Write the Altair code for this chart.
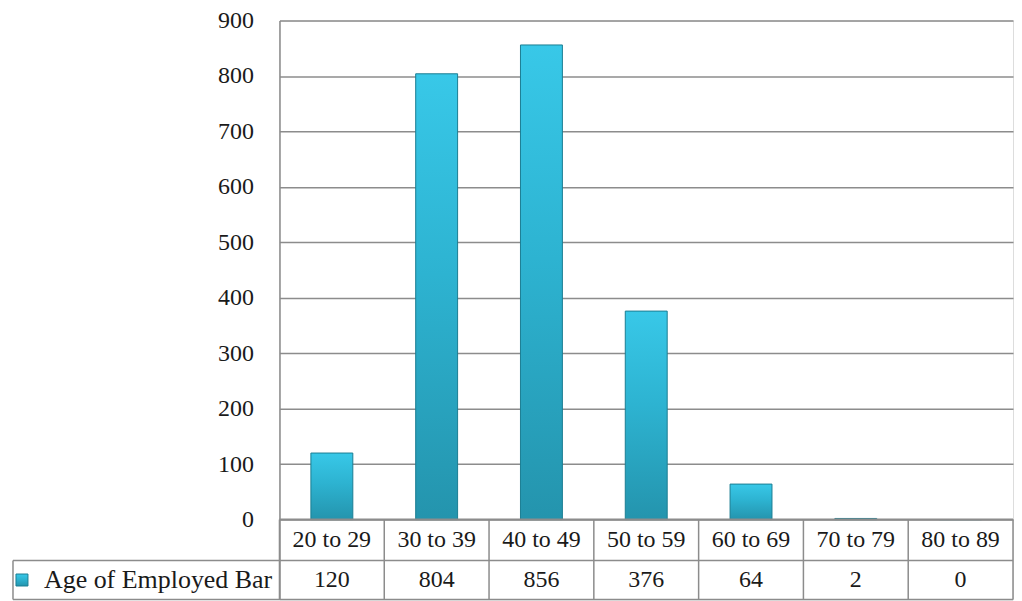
import altair as alt
import pandas as pd

# ---- data ----
categories = ["20 to 29", "30 to 39", "40 to 49", "50 to 59", "60 to 69", "70 to 79", "80 to 89"]
values = [120, 804, 856, 376, 64, 2, 0]
series_name = "Age of Employed Bar"
y_ticks = [0, 100, 200, 300, 400, 500, 600, 700, 800, 900]

# ---- layout / style constants ----
FONT = "Liberation Serif, DejaVu Serif, serif"
TEXT = "#1a1a1a"
GRID = "#8c8c8c"
W, H = 735, 580
HEADER_W = 267            # width of the table's row-header column (px, left of plot)
ROW_EDGE = -74            # table row boundary (y units, below the 0 line)
TABLE_BOTTOM = -144       # bottom of the data table (y units)
ROW1_C = (0 + ROW_EDGE) / 2
ROW2_C = (ROW_EDGE + TABLE_BOTTOM) / 2

bar_fill = alt.Gradient(
    gradient="linear", x1=0, y1=0, x2=0, y2=1,
    stops=[alt.GradientStop(color="#38c8e8", offset=0),
           alt.GradientStop(color="#2db3d1", offset=0.45),
           alt.GradientStop(color="#2494ad", offset=1)],
)

df = pd.DataFrame({"cat": categories, "value": values})

xscale = alt.Scale(domain=categories, paddingInner=0, paddingOuter=0)
yscale = alt.Scale(domain=[TABLE_BOTTOM, 900], nice=False, zero=False)
x = alt.X("cat:N", sort=categories, scale=xscale, axis=None)

yaxis = alt.Axis(values=y_ticks, grid=True, gridColor=GRID, gridWidth=1.5,
                 domainColor=GRID, domainWidth=1.5, ticks=False,
                 labelFont=FONT, labelFontSize=24, labelColor=TEXT,
                 labelPadding=26, title=None)

bars = alt.Chart(df).mark_bar(
    width=alt.RelativeBandSize(0.4), fill=bar_fill, stroke="#1b7d93", strokeWidth=1
).encode(
    x=x,
    y=alt.Y("value:Q", scale=yscale, axis=yaxis),
    y2=alt.datum(0),
)

# table: category labels row
cat_text = alt.Chart(df).mark_text(font=FONT, fontSize=24, color=TEXT).encode(
    x=x, y=alt.datum(ROW1_C), text="cat:N"
)
# table: values row
val_text = alt.Chart(df).mark_text(font=FONT, fontSize=24, color=TEXT).encode(
    x=x, y=alt.datum(ROW2_C), text="value:Q"
)

# table vertical lines (column starts + right edge)
vlines = alt.Chart(df).mark_rule(color=GRID, strokeWidth=1.5).encode(
    x=alt.X("cat:N", sort=categories, scale=xscale, axis=None, bandPosition=0),
    y=alt.datum(0), y2=alt.datum(TABLE_BOTTOM),
)
vlast = alt.Chart(pd.DataFrame({"cat": [categories[-1]]})).mark_rule(color=GRID, strokeWidth=1.5).encode(
    x=alt.X("cat:N", sort=categories, scale=xscale, axis=None, bandPosition=1),
    y=alt.datum(0), y2=alt.datum(TABLE_BOTTOM),
)

# table top border (the zero line, drawn over the bars' base)
top_line = alt.Chart(pd.DataFrame({"yy": [0]})).mark_rule(color=GRID, strokeWidth=2).encode(
    y=alt.Y("yy:Q", scale=yscale), x=alt.value(0), x2=alt.value(W)
)
# table horizontal lines spanning header + columns
hlines = alt.Chart(pd.DataFrame({"yy": [ROW_EDGE, TABLE_BOTTOM]})).mark_rule(color=GRID, strokeWidth=1.5).encode(
    y=alt.Y("yy:Q", scale=yscale), x=alt.value(-HEADER_W), x2=alt.value(W)
)
one = pd.DataFrame({"a": [0]})
hleft = alt.Chart(one).mark_rule(color=GRID, strokeWidth=1.5).encode(
    x=alt.value(-HEADER_W), y=alt.datum(ROW_EDGE), y2=alt.datum(TABLE_BOTTOM)
)

# legend key + series name in header cell
key = alt.Chart(one).mark_square(size=144, fill=bar_fill, stroke="#1b7d93", strokeWidth=1, opacity=1).encode(
    x=alt.value(-HEADER_W + 9), y=alt.datum(ROW2_C)
)
header = alt.Chart(one).mark_text(font=FONT, fontSize=26, color=TEXT, align="left").encode(
    x=alt.value(-HEADER_W + 31), y=alt.datum(ROW2_C), text=alt.value(series_name)
)

chart = alt.layer(bars, top_line, vlines, vlast, hlines, hleft, cat_text, val_text, key, header).properties(
    width=W, height=H,
    padding={"left": 4, "top": 0, "right": 0, "bottom": 0},
).configure_view(stroke=None).configure(background="white")

chart.save("out.html", embed_options={"renderer": "svg", "actions": False})
